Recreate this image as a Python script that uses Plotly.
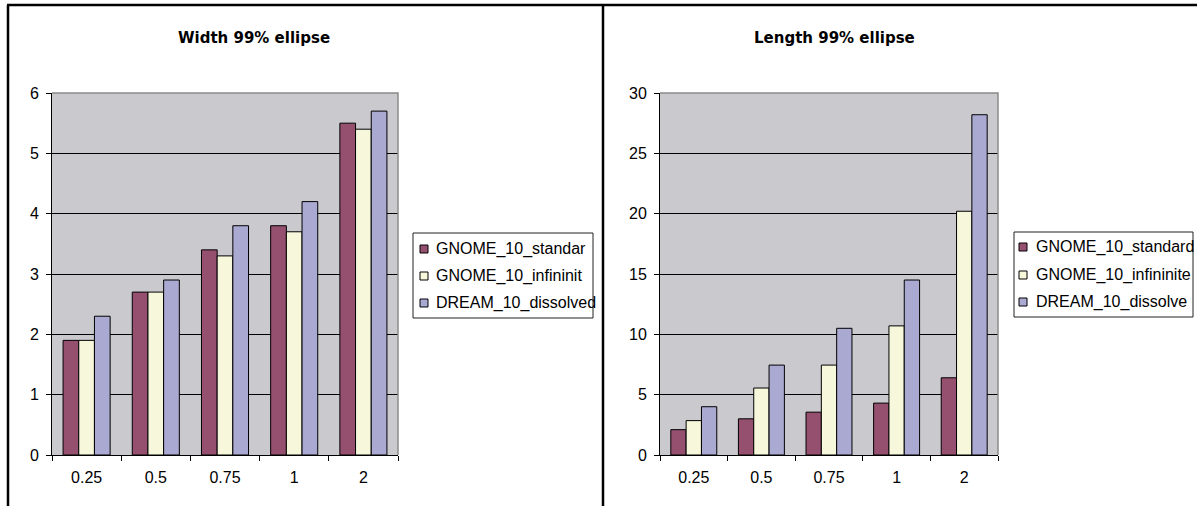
import plotly.graph_objects as go

# ---------------- data ----------------
categories = ["0.25", "0.5", "0.75", "1", "2"]

width_standard = [1.9, 2.7, 3.4, 3.8, 5.5]
width_infinite = [1.9, 2.7, 3.3, 3.7, 5.4]
width_dissolved = [2.3, 2.9, 3.8, 4.2, 5.7]

length_standard = [2.1, 3.0, 3.55, 4.3, 6.4]
length_infinite = [2.85, 5.55, 7.45, 10.7, 20.2]
length_dissolved = [4.0, 7.45, 10.5, 14.5, 28.2]

left_names = ["GNOME_10_standar", "GNOME_10_infininit", "DREAM_10_dissolved"]
right_names = ["GNOME_10_standard", "GNOME_10_infininite", "DREAM_10_dissolve"]

left_title = "Width 99% ellipse"
right_title = "Length 99% ellipse"

colors = ["#955070", "#F7F7DC", "#AAA9D1"]
plot_bg = "#CAC9CE"
FONT = "Liberation Sans, Arial, sans-serif"

W, H = 1197, 506


def px_x(p):
    return p / W


def px_y(p):
    return 1 - p / H


fig = go.Figure()

left_series = [width_standard, width_infinite, width_dissolved]
right_series = [length_standard, length_infinite, length_dissolved]

for vals, name, c in zip(left_series, left_names, colors):
    fig.add_trace(go.Bar(x=categories, y=vals, name=name, marker=dict(color=c, line=dict(color="black", width=1)),
                         xaxis="x", yaxis="y", showlegend=False))
for vals, name, c in zip(right_series, right_names, colors):
    fig.add_trace(go.Bar(x=categories, y=vals, name=name, marker=dict(color=c, line=dict(color="black", width=1)),
                         xaxis="x2", yaxis="y2", showlegend=False))

ydom = [px_y(455), px_y(93)]

xcommon = dict(type="category", tickson="boundaries", ticks="outside", ticklen=5, tickcolor="black",
               showline=True, linecolor="black", linewidth=1, showgrid=False, automargin=False,
               tickfont=dict(family=FONT, size=16, color="black"), ticklabelstandoff=8)
ycommon = dict(ticks="outside", ticklen=5, tickcolor="black", showline=True, linecolor="black", linewidth=1,
               showgrid=True, gridcolor="black", gridwidth=1, zeroline=False, automargin=False,
               tickfont=dict(family=FONT, size=16, color="black"), ticklabelstandoff=4)

fig.update_layout(
    width=W, height=H, autosize=False,
    margin=dict(l=0, r=0, t=0, b=0, pad=0, autoexpand=False),
    paper_bgcolor="white",
    plot_bgcolor=plot_bg,
    barmode="group",
    bargap=0.32,
    bargroupgap=0,
    showlegend=False,
    xaxis=dict(domain=[px_x(52), px_x(398)], anchor="y", **xcommon),
    yaxis=dict(domain=ydom, anchor="x", range=[0, 6], dtick=1, **ycommon),
    xaxis2=dict(domain=[px_x(660), px_x(998)], anchor="y2", **xcommon),
    yaxis2=dict(domain=ydom, anchor="x2", range=[0, 30], dtick=5, **ycommon),
)

shapes = []
annotations = []

# gray plot-area edge (top and right)
for xr, yr in [("x domain", "y domain"), ("x2 domain", "y2 domain")]:
    shapes.append(dict(type="path", xref=xr, yref=yr, path="M 0,1 L 1,1 L 1,0",
                       line=dict(color="#8A8A8A", width=1.5), layer="above"))

# outer frame lines
shapes.append(dict(type="line", xref="paper", yref="paper", x0=px_x(7), x1=1, y0=px_y(5), y1=px_y(5),
                   line=dict(color="black", width=2.5)))
shapes.append(dict(type="line", xref="paper", yref="paper", x0=px_x(8), x1=px_x(8), y0=0, y1=px_y(5),
                   line=dict(color="black", width=2.5)))
shapes.append(dict(type="line", xref="paper", yref="paper", x0=px_x(603), x1=px_x(603), y0=0, y1=px_y(5),
                   line=dict(color="black", width=2.5)))

# titles
annotations.append(dict(text="<b>" + left_title + "</b>", x=px_x(253.5), y=px_y(38), xref="paper", yref="paper",
                        xanchor="center", yanchor="middle", showarrow=False,
                        font=dict(family="DejaVu Sans", size=15, color="black")))
annotations.append(dict(text="<b>" + right_title + "</b>", x=px_x(834), y=px_y(38), xref="paper", yref="paper",
                        xanchor="center", yanchor="middle", showarrow=False,
                        font=dict(family="DejaVu Sans", size=15, color="black")))


def add_legend(box, rows, names, sw_x, text_x):
    x0, x1, y0, y1 = box
    shapes.append(dict(type="rect", xref="paper", yref="paper", x0=px_x(x0), x1=px_x(x1), y0=px_y(y1), y1=px_y(y0),
                       line=dict(color="#222222", width=1), fillcolor="white"))
    for yc, name, c in zip(rows, names, colors):
        shapes.append(dict(type="rect", xref="paper", yref="paper", x0=px_x(sw_x), x1=px_x(sw_x + 8),
                           y0=px_y(yc + 4), y1=px_y(yc - 4), line=dict(color="black", width=1), fillcolor=c))
        annotations.append(dict(text=name, x=px_x(text_x), y=px_y(yc), xref="paper", yref="paper",
                                xanchor="left", yanchor="middle", showarrow=False,
                                font=dict(family=FONT, size=16, color="black")))


add_legend((413, 593, 233, 318), [249, 276, 303], left_names, 420, 434)
add_legend((1014, 1193, 232, 317), [247, 275, 302], right_names, 1019, 1034)

fig.update_layout(shapes=shapes, annotations=annotations)

fig.write_html(
    "out.html",
    config={"displayModeBar": False},
    post_script="document.body.style.margin='0';document.body.style.overflow='hidden';",
)
